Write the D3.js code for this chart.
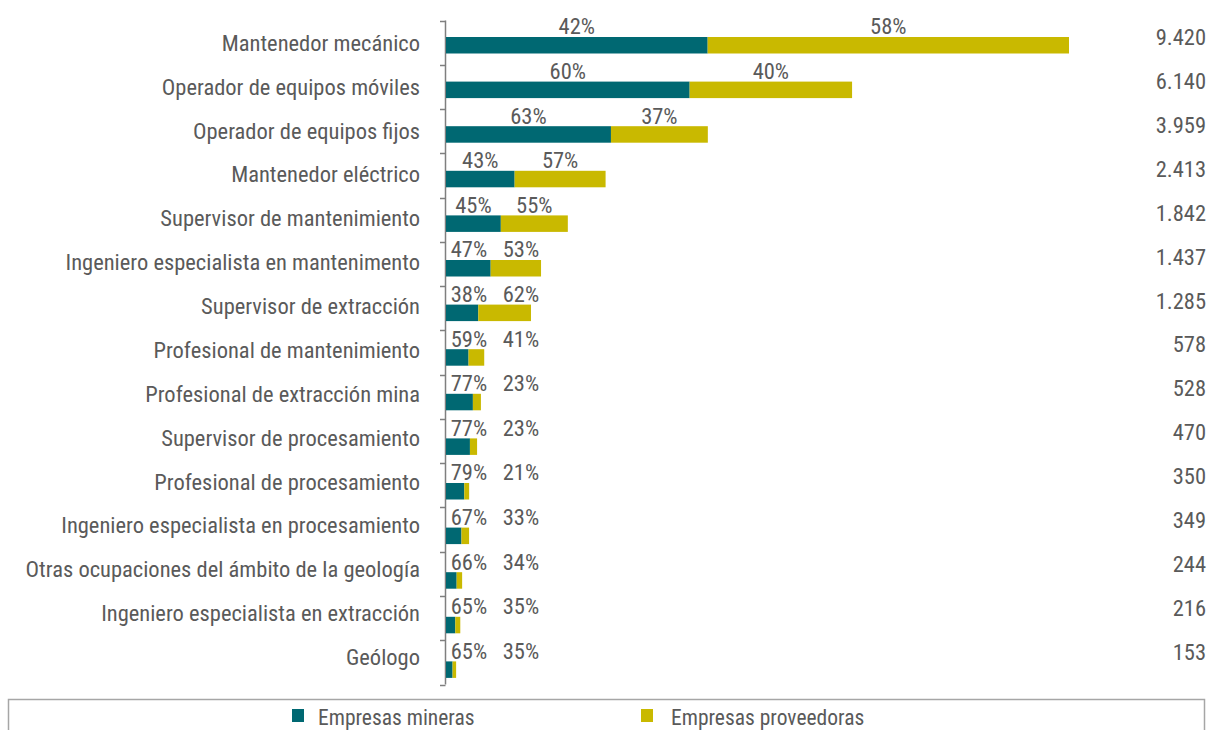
<!DOCTYPE html>
<html>
<head>
<meta charset="utf-8">
<script src="https://cdn.jsdelivr.net/npm/d3@7"></script>
<style>
  html, body { margin: 0; padding: 0; background: #ffffff; }
  svg { display: block; }
  text { font-family: "Liberation Sans Narrow", "Arial Narrow", "Roboto Condensed", "DejaVu Sans Condensed", sans-serif; fill: #5a5a5a; }
</style>
</head>
<body>
<svg id="chart" width="1208" height="730"></svg>
<script>
// Occupations, ordered by total demand
const categories = [
  "Mantenedor mecánico",
  "Operador de equipos móviles",
  "Operador de equipos fijos",
  "Mantenedor eléctrico",
  "Supervisor de mantenimiento",
  "Ingeniero especialista en mantenimento",
  "Supervisor de extracción",
  "Profesional de mantenimiento",
  "Profesional de extracción mina",
  "Supervisor de procesamiento",
  "Profesional de procesamiento",
  "Ingeniero especialista en procesamiento",
  "Otras ocupaciones del ámbito de la geología",
  "Ingeniero especialista en extracción",
  "Geólogo"
];
// Total workers per occupation
const totals = [9420, 6140, 3959, 2413, 1842, 1437, 1285, 578, 528, 470, 350, 349, 244, 216, 153];
// Share (%) by type of company
const pctMineras     = [42, 60, 63, 43, 45, 47, 38, 59, 77, 77, 79, 67, 66, 65, 65];
const pctProveedoras = [58, 40, 37, 57, 55, 53, 62, 41, 23, 23, 21, 33, 34, 35, 35];
const seriesNames = ["Empresas mineras", "Empresas proveedoras"];
const colors = ["#006872", "#c9b900"];

const rows = categories.map((c, i) => ({
  cat: c,
  total: totals[i],
  a: totals[i] * pctMineras[i] / 100,
  b: totals[i] * pctProveedoras[i] / 100,
  pa: pctMineras[i],
  pb: pctProveedoras[i]
}));

const svg = d3.select("#chart");
const x = d3.scaleLinear().domain([0, d3.max(totals)]).range([446, 1069]);
// Bars + percentages, category labels + totals, and axis ticks each sit on their own band grid
const yBar  = d3.scaleBand().domain(categories).range([20, 689]);
const yLab  = d3.scaleBand().domain(categories).range([21, 679]);
const yAxis = d3.scaleBand().domain(categories).range([20.5, 684.5]);
const fs = 22.5;

// Vertical category axis with ticks between bands
const axis = svg.append("g");
axis.append("line")
  .attr("x1", 445.5).attr("x2", 445.5)
  .attr("y1", yAxis.range()[0]).attr("y2", yAxis.range()[1])
  .attr("stroke", "#7f7f7f").attr("stroke-width", 1.5);
const boundaries = categories.map(c => yAxis(c)).concat([yAxis.range()[1]]);
axis.selectAll("line.tick").data(boundaries).join("line")
  .attr("class", "tick")
  .attr("x1", 440).attr("x2", 445.5)
  .attr("y1", d => Math.round(d) + 0.5).attr("y2", d => Math.round(d) + 0.5)
  .attr("stroke", "#7f7f7f").attr("stroke-width", 1.5);

// Category labels
svg.append("g").selectAll("text").data(rows).join("text")
  .attr("x", 420)
  .attr("y", d => yLab(d.cat) + 22)
  .attr("dy", "0.35em")
  .attr("text-anchor", "end")
  .style("font-size", fs + "px")
  .text(d => d.cat);

// Stacked bars
const barOff = 17, barH = 16.5;
const bars = svg.append("g");
bars.selectAll("rect.a").data(rows).join("rect")
  .attr("class", "a")
  .attr("x", x(0))
  .attr("y", d => yBar(d.cat) + barOff)
  .attr("width", d => x(d.a) - x(0))
  .attr("height", barH)
  .attr("fill", colors[0]);
bars.selectAll("rect.b").data(rows).join("rect")
  .attr("class", "b")
  .attr("x", d => x(d.a))
  .attr("y", d => yBar(d.cat) + barOff)
  .attr("width", d => x(d.a + d.b) - x(d.a))
  .attr("height", barH)
  .attr("fill", colors[1]);

// Percentage labels above each segment, kept apart on short bars
const minFirst = 469, minGap = 52;
const pctLabels = svg.append("g");
rows.forEach(d => {
  const c1 = Math.max((x(0) + x(d.a)) / 2, minFirst);
  const c2 = Math.max((x(d.a) + x(d.a + d.b)) / 2, c1 + minGap);
  const ty = yBar(d.cat) + 6.5;
  pctLabels.append("text").attr("x", c1).attr("y", ty).attr("dy", "0.35em")
    .attr("text-anchor", "middle").style("font-size", fs + "px").text(d.pa + "%");
  pctLabels.append("text").attr("x", c2).attr("y", ty).attr("dy", "0.35em")
    .attr("text-anchor", "middle").style("font-size", fs + "px").text(d.pb + "%");
});

// Totals on the right
const fmt = v => d3.format(",")(v).replace(/,/g, ".");
svg.append("g").selectAll("text").data(rows).join("text")
  .attr("x", 1206)
  .attr("y", d => yLab(d.cat) + 16.5)
  .attr("dy", "0.35em")
  .attr("text-anchor", "end")
  .style("font-size", fs + "px")
  .text(d => fmt(d.total));

// Legend
const lg = svg.append("g");
lg.append("rect")
  .attr("x", 8.5).attr("y", 699.5).attr("width", 1196).attr("height", 60)
  .attr("fill", "none").attr("stroke", "#a6a6a6").attr("stroke-width", 1.5);
const legendSwatchX = [292, 641];
const legendTextX = [318, 671];
seriesNames.forEach((s, i) => {
  lg.append("rect").attr("x", legendSwatchX[i]).attr("y", 709).attr("width", 12).attr("height", 13).attr("fill", colors[i]);
  lg.append("text").attr("x", legendTextX[i]).attr("y", 717).attr("dy", "0.35em")
    .style("font-size", "21.5px").text(s);
});
</script>
</body>
</html>
